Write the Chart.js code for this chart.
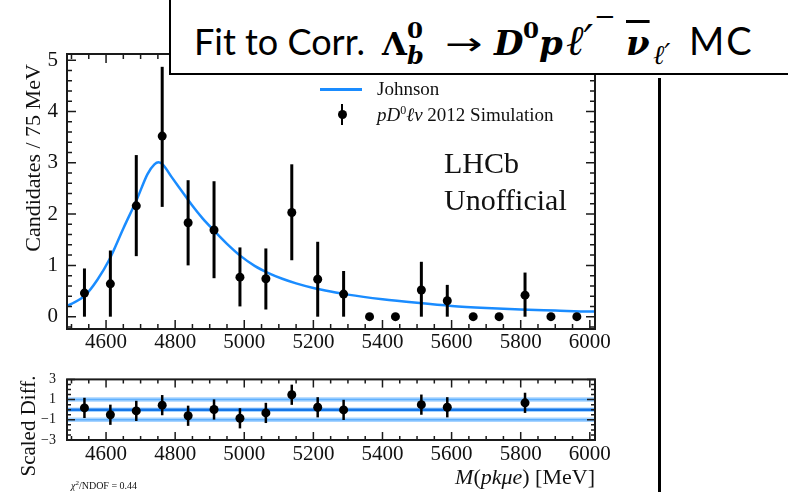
<!DOCTYPE html>
<html>
<head>
<meta charset="utf-8">
<script src="https://cdn.jsdelivr.net/npm/chart.js@4.4.1/dist/chart.umd.min.js"></script>
<style>
  html, body { margin: 0; padding: 0; background: #fff; }
  #page { position: relative; width: 788px; height: 492px; overflow: hidden; font-family: "Liberation Serif", serif; color: #111; }
  canvas { position: absolute; left: 0; }
  #topChart { top: 0; }
  #botChart { top: 360px; }
  .abs { position: absolute; white-space: nowrap; line-height: 1; }
  #titleBox { position: absolute; left: 169px; top: -4px; width: 660px; height: 75px; border: 2px solid #000; background: #fff; }
  #titleText { position: absolute; left: 23px; top: 22px; font-family: Lato, "Open Sans", sans-serif; font-size: 36px; line-height: 1; white-space: nowrap; color: #000; }
  .pc { display: inline-block; white-space: nowrap; }
  .m { font-family: "DejaVu Serif", serif; font-weight: bold; font-size: 32px; }
  .mi { font-style: italic; font-size: 34px; }
  .lt { font-family: "DejaVu Serif", serif; font-style: italic; font-weight: normal; font-size: 42px; }
  .nu { text-decoration: overline; text-decoration-thickness: 2.5px; }
  #rightRule { position: absolute; left: 658px; top: 78px; width: 3px; height: 420px; background: #000; }
  .legLine { position: absolute; left: 320px; top: 88px; width: 42px; height: 2.5px; background: #1a8cff; }
  .legBar { position: absolute; left: 340.5px; top: 104px; width: 2.5px; height: 21px; background: #000; }
  .legDot { position: absolute; left: 337.5px; top: 110px; width: 9px; height: 9px; border-radius: 50%; background: #000; }
  .rot { position: absolute; white-space: nowrap; line-height: 1; transform: translate(-50%, -50%) rotate(-90deg); }
</style>
</head>
<body>
<div id="page">
  <canvas id="topChart" width="660" height="362"></canvas>
  <canvas id="botChart" width="660" height="132"></canvas>

  <div id="titleBox">
    <div id="titleText"><span class="pc" style="width:188px">Fit to Corr.</span><span class="pc m" style="width:25px">Λ</span><span class="pc m" style="width:0;font-size:23px;position:relative;top:-17px">0</span><span class="pc m" style="width:38px;font-size:24px;font-style:italic;position:relative;top:9px">b</span><span class="pc" style="width:49px;font-family:'DejaVu Sans',sans-serif;font-size:32px;transform:scaleX(1.4);transform-origin:left center">→</span><span class="pc m mi" style="width:29px">D</span><span class="pc m" style="width:16px;font-size:23px;position:relative;top:-17px">0</span><span class="pc m mi" style="width:27px">p</span><span class="pc lt" style="width:28px">ℓ′</span><span class="pc" style="width:32px;font-family:'DejaVu Serif',serif;font-size:26px;position:relative;top:-30px">−</span><span class="pc m mi nu" style="width:27px">ν</span><span class="pc lt" style="width:36px;font-size:27px;position:relative;top:9px">ℓ′</span><span class="pc" style="font-size:38px;letter-spacing:2px">MC</span></div>
  </div>
  <div id="rightRule"></div>

  <div class="legLine"></div>
  <div class="legBar"></div>
  <div class="legDot"></div>
  <div class="abs" style="left:377px; top:79px; font-size:19px;">Johnson</div>
  <div class="abs" style="left:377px; top:104px; font-size:19px;"><i>pD</i><sup style="font-size:12px">0</sup><i>ℓν</i> 2012 Simulation</div>

  <div class="abs" style="left:444px; top:148px; font-size:30px;">LHCb</div>
  <div class="abs" style="left:444px; top:185px; font-size:30px;">Unofficial</div>

  <div class="rot" style="left:33px; top:158px; font-size:22px;">Candidates / 75 MeV</div>
  <div class="rot" style="left:28px; top:426px; font-size:21px;">Scaled Diff.</div>
  <div class="abs" style="right:193px; top:466px; font-size:22px;"><i>M</i>(<i>pkμe</i>) [MeV]</div>
  <div class="abs" style="left:71px; top:480px; font-size:10px;"><i>χ</i><sup style="font-size:7px">2</sup>/NDOF = 0.44</div>
</div>

<script>
// binned MC candidates (75 MeV bins)
const binCenters = [4537.5, 4612.5, 4687.5, 4762.5, 4837.5, 4912.5, 4987.5, 5062.5, 5137.5, 5212.5,
                    5287.5, 5362.5, 5437.5, 5512.5, 5587.5, 5662.5, 5737.5, 5812.5, 5887.5, 5962.5];
const counts   = [0.46, 0.64, 2.16, 3.52, 1.83, 1.69, 0.77, 0.74, 2.03, 0.73, 0.44, 0, 0, 0.52, 0.31, 0, 0, 0.42, 0, 0];
const countLo  = [0, 0, 1.18, 2.14, 1.00, 0.75, 0.20, 0.14, 1.10, 0, 0, 0, 0, 0, 0, 0, 0, 0, 0, 0];
const countHi  = [0.94, 1.29, 3.15, 4.87, 2.66, 2.64, 1.35, 1.33, 2.97, 1.46, 0.89, 0, 0, 1.07, 0.62, 0, 0, 0.86, 0, 0];

// Johnson fit
const fitMass  = [4487, 4500, 4540, 4575, 4610, 4650, 4690, 4720, 4740, 4752, 4765, 4790, 4820, 4850, 4880,
                  4915, 4950, 4990, 5030, 5070, 5110, 5150, 5200, 5250, 5300, 5400, 5500, 5600, 5700, 5800, 5900, 6000, 6015];
const fitValue = [0.21, 0.25, 0.42, 0.72, 1.12, 1.72, 2.30, 2.78, 2.97, 3.01, 2.96, 2.72, 2.44, 2.16, 1.91,
                  1.66, 1.42, 1.18, 0.99, 0.85, 0.74, 0.65, 0.56, 0.49, 0.43, 0.34, 0.27, 0.21, 0.17, 0.14, 0.12, 0.10, 0.10];

// scaled differences (empty bins have none)
const pulls   = [0.18, -0.5, -0.12, 0.45, -0.6, 0.02, -0.85, -0.32, 1.48, 0.24, -0.02, null, null, 0.5, 0.24, null, null, 0.68, null, null];
const pullErr = [1, 1, 1, 1, 1, 1, 1, 1, 1, 1, 1, null, null, 1, 1, null, null, 1, null, null];
const pullLevels = [-1, 0, 1];

// axes
const massMin = 4487, massMax = 6015;
const massTicks = [4600, 4800, 5000, 5200, 5400, 5600, 5800, 6000];
const countTicks = [0, 1, 2, 3, 4, 5];
const pullTicks = [3, 1, -1, -3];

const serif = '"Liberation Serif", serif';
const blue = '#1a8cff';

// Poisson-like error bars drawn through the chart scales
const errorBars = {
  id: 'errorBars',
  afterDatasetsDraw(chart, args, opts) {
    const { ctx, scales: { x, y } } = chart;
    ctx.save();
    ctx.strokeStyle = '#000';
    ctx.lineWidth = opts.width;
    opts.xs.forEach((xv, i) => {
      const lo = opts.lo[i], hi = opts.hi[i];
      if (lo == null || hi == null || hi <= lo) return;
      const px = x.getPixelForValue(xv);
      ctx.beginPath();
      ctx.moveTo(px, y.getPixelForValue(lo));
      ctx.lineTo(px, y.getPixelForValue(hi));
      ctx.stroke();
    });
    ctx.restore();
  }
};

// ROOT style frame with inward ticks on all four sides
const rootFrame = {
  id: 'rootFrame',
  afterDraw(chart, args, opts) {
    const { ctx, chartArea: a, scales: { x, y } } = chart;
    ctx.save();
    ctx.strokeStyle = '#1a1a1a';
    ctx.lineWidth = 1.5;
    ctx.beginPath();
    for (let v = opts.xStart; v <= opts.xEnd + 1e-6; v += opts.xStep) {
      const len = opts.xMajor.includes(v) ? opts.xMajorLen : opts.xMinorLen;
      const px = x.getPixelForValue(v);
      ctx.moveTo(px, a.bottom); ctx.lineTo(px, a.bottom - len);
      ctx.moveTo(px, a.top); ctx.lineTo(px, a.top + len);
    }
    for (let k = 0; ; k++) {
      const v = +(opts.yStart + k * opts.yStep).toFixed(4);
      if (v > opts.yEnd + 1e-6) break;
      const len = opts.yMajor.includes(v) ? opts.yMajorLen : opts.yMinorLen;
      const py = y.getPixelForValue(v);
      ctx.moveTo(a.left, py); ctx.lineTo(a.left + len, py);
      ctx.moveTo(a.right, py); ctx.lineTo(a.right - len, py);
    }
    ctx.stroke();
    ctx.lineWidth = 2;
    ctx.strokeRect(a.left, a.top, a.right - a.left, a.bottom - a.top);
    ctx.restore();
  }
};

function massAxis(height, pad) {
  return {
    type: 'linear', min: massMin, max: massMax,
    grid: { display: false, drawTicks: false }, border: { display: false },
    afterBuildTicks: s => { s.ticks = massTicks.map(v => ({ value: v })); },
    afterFit: s => { s.height = height; },
    ticks: { padding: pad, color: '#111', maxRotation: 0, autoSkip: false,
             font: { family: serif, size: 21 }, callback: v => String(v) }
  };
}

new Chart(document.getElementById('topChart'), {
  type: 'scatter',
  data: {
    datasets: [
      {
        label: 'Johnson',
        data: fitMass.map((m, i) => ({ x: m, y: fitValue[i] })),
        showLine: true, borderColor: blue, borderWidth: 2.5, pointRadius: 0,
        cubicInterpolationMode: 'monotone', order: 1
      },
      {
        label: 'pD0lv 2012 Simulation',
        data: binCenters.map((m, i) => ({ x: m, y: counts[i] })),
        pointRadius: 4.5, backgroundColor: '#000', borderWidth: 0, order: 0
      }
    ]
  },
  options: {
    responsive: false, animation: false, devicePixelRatio: 1,
    layout: { padding: { top: 54, right: 65, left: 0, bottom: 0 } },
    plugins: {
      legend: { display: false }, tooltip: { enabled: false },
      errorBars: { xs: binCenters, lo: countLo, hi: countHi, width: 3 },
      rootFrame: { xStart: 4500, xEnd: 6000, xStep: 50, xMajor: massTicks, xMajorLen: 9, xMinorLen: 5,
                   yStart: -0.2, yEnd: 5.0, yStep: 0.2, yMajor: countTicks, yMajorLen: 9, yMinorLen: 5 }
    },
    scales: {
      x: massAxis(33, 1),
      y: {
        min: -0.24, max: 5.12,
        grid: { display: false, drawTicks: false }, border: { display: false },
        afterBuildTicks: s => { s.ticks = countTicks.map(v => ({ value: v })); },
        afterFit: s => { s.width = 67; },
        ticks: { padding: 9, color: '#111', font: { family: serif, size: 21 }, callback: v => String(v) }
      }
    }
  },
  plugins: [errorBars, rootFrame]
});

const levelSets = [];
pullLevels.forEach(lv => {
  const line = [{ x: massMin, y: lv }, { x: massMax, y: lv }];
  levelSets.push({ data: line, showLine: true, pointRadius: 0, borderColor: '#a6d3ff', borderWidth: 4.5, order: 3 });
  levelSets.push({ data: line, showLine: true, pointRadius: 0,
                   borderColor: lv === 0 ? '#1677e8' : '#5eb0ff', borderWidth: lv === 0 ? 2.5 : 1.5, order: 2 });
});

new Chart(document.getElementById('botChart'), {
  type: 'scatter',
  data: {
    datasets: levelSets.concat([
      {
        data: binCenters.map((m, i) => ({ x: m, y: pulls[i] })).filter(p => p.y !== null),
        pointRadius: 4.5, backgroundColor: '#000', borderWidth: 0, order: 0
      }
    ])
  },
  options: {
    responsive: false, animation: false, devicePixelRatio: 1,
    layout: { padding: { top: 13, right: 65, left: 0, bottom: 0 } },
    plugins: {
      legend: { display: false }, tooltip: { enabled: false },
      errorBars: { xs: binCenters, width: 2.5,
                   lo: pulls.map((p, i) => p === null ? null : p - pullErr[i]),
                   hi: pulls.map((p, i) => p === null ? null : p + pullErr[i]) },
      rootFrame: { xStart: 4500, xEnd: 6000, xStep: 50, xMajor: massTicks, xMajorLen: 8, xMinorLen: 4,
                   yStart: -3, yEnd: 3, yStep: 0.5, yMajor: pullTicks, yMajorLen: 8, yMinorLen: 4 }
    },
    scales: {
      x: massAxis(52, 2),
      y: {
        min: -3, max: 3,
        grid: { display: false, drawTicks: false }, border: { display: false },
        afterBuildTicks: s => { s.ticks = pullTicks.map(v => ({ value: v })); },
        afterFit: s => { s.width = 67; },
        ticks: { padding: 11, color: '#111', font: { family: serif, size: 14 },
                 callback: v => (v < 0 ? '\u2212' + Math.abs(v) : String(v)) }
      }
    }
  },
  plugins: [errorBars, rootFrame]
});
</script>
</body>
</html>
